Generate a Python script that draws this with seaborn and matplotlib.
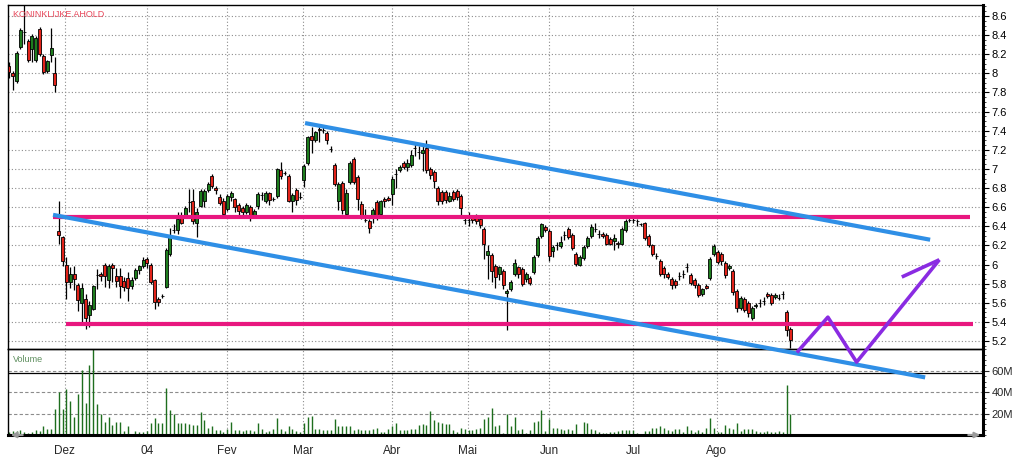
import numpy as np
import pandas as pd
import matplotlib
matplotlib.use("Agg")
import matplotlib.pyplot as plt
from matplotlib.ticker import FixedLocator, MultipleLocator
import seaborn as sns

# ---------------- data (trading-day index 0..204) ----------------
opens = [8.08, 8.00, 7.92, 8.28, 8.43, 8.34, 8.25, 8.14, 8.46, 8.18,
         8.02, 8.19, 8.00, 6.35, 6.29, 6.00, 5.82, 5.90, 5.79, 5.60,
         5.64, 5.47, 5.54, 5.89, 5.90, 6.00, 5.84, 6.00, 5.88, 5.88,
         5.83, 5.86, 5.78, 5.86, 5.94, 5.98, 6.06, 6.00, 5.84, 5.64,
         5.67, 5.77, 6.11, 6.36, 6.36, 6.51, 6.51, 6.65, 6.67, 6.43,
         6.61, 6.67, 6.78, 6.93, 6.80, 6.71, 6.67, 6.58, 6.71, 6.69,
         6.62, 6.59, 6.55, 6.60, 6.52, 6.61, 6.73, 6.67, 6.75, 6.69,
         6.72, 6.99, 6.96, 6.93, 6.67, 6.78, 6.71, 6.88, 7.06, 7.35,
         7.30, 7.42, 7.41, 7.38, 7.21, 7.04, 6.66, 6.85, 6.53, 6.86,
         7.10, 6.92, 6.63, 6.47, 6.46, 6.52, 6.65, 6.53, 6.69, 6.70,
         6.74, 6.95, 6.99, 7.06, 7.02, 7.04, 7.22, 7.18, 7.17, 7.22,
         7.00, 6.97, 6.80, 6.76, 6.76, 6.67, 6.76, 6.77, 6.72, 6.47,
         6.47, 6.50, 6.50, 6.48, 6.37, 6.10, 6.10, 5.99, 5.90, 5.93,
         5.70, 5.74, 5.90, 5.97, 5.95, 5.85, 5.86, 5.92, 6.10, 6.30,
         6.39, 6.35, 6.14, 6.20, 6.19, 6.31, 6.37, 6.31, 6.11, 6.00,
         6.07, 6.19, 6.30, 6.37, 6.32, 6.32, 6.31, 6.27, 6.25, 6.23,
         6.22, 6.36, 6.47, 6.47, 6.46, 6.42, 6.43, 6.30, 6.20, 6.09,
         6.04, 5.96, 5.90, 5.85, 5.83, 5.88, 5.90, 5.97, 5.89, 5.84,
         5.79, 5.69, 5.78, 5.86, 6.11, 6.13, 6.11, 6.02, 5.96, 5.93,
         5.72, 5.55, 5.64, 5.60, 5.44, 5.57, 5.60, 5.62, 5.69, 5.68,
         5.66, 5.65, 5.69, 5.50, 5.33]

closes = [8.01, 7.97, 8.21, 8.45, 8.43, 8.14, 8.39, 8.37, 8.20, 8.01,
          8.13, 8.27, 7.88, 6.31, 6.04, 5.82, 5.90, 5.85, 5.63, 5.76,
          5.44, 5.58, 5.78, 5.89, 5.88, 5.88, 5.99, 5.96, 5.83, 5.78,
          5.77, 5.76, 5.84, 5.94, 5.98, 6.05, 6.02, 5.82, 5.61, 5.61,
          5.67, 6.15, 6.30, 6.36, 6.48, 6.44, 6.59, 6.65, 6.46, 6.55,
          6.77, 6.77, 6.84, 6.82, 6.78, 6.64, 6.53, 6.72, 6.75, 6.60,
          6.56, 6.55, 6.62, 6.52, 6.56, 6.74, 6.73, 6.75, 6.68, 6.69,
          7.00, 6.93, 6.96, 6.67, 6.73, 6.68, 6.71, 7.03, 7.33, 7.30,
          7.39, 7.41, 7.41, 7.30, 7.21, 6.84, 6.84, 6.57, 6.75, 7.06,
          6.86, 6.69, 6.52, 6.47, 6.38, 6.57, 6.52, 6.66, 6.67, 6.68,
          6.90, 6.95, 7.02, 7.02, 7.06, 7.15, 7.22, 7.18, 7.20, 6.99,
          6.94, 6.87, 6.67, 6.66, 6.68, 6.72, 6.69, 6.71, 6.59, 6.47,
          6.47, 6.47, 6.46, 6.41, 6.21, 6.14, 5.93, 5.87, 5.97, 5.79,
          5.72, 5.82, 6.02, 5.90, 5.80, 5.90, 5.81, 6.08, 6.28, 6.42,
          6.36, 6.09, 6.18, 6.20, 6.24, 6.31, 6.29, 6.17, 6.01, 6.08,
          6.18, 6.28, 6.39, 6.37, 6.32, 6.30, 6.22, 6.22, 6.28, 6.21,
          6.37, 6.46, 6.47, 6.47, 6.46, 6.42, 6.28, 6.20, 6.11, 6.09,
          5.90, 5.90, 5.87, 5.79, 5.79, 5.88, 5.90, 5.97, 5.81, 5.79,
          5.68, 5.74, 5.76, 6.06, 6.19, 6.03, 6.04, 5.89, 5.99, 5.71,
          5.55, 5.65, 5.53, 5.49, 5.55, 5.58, 5.60, 5.62, 5.67, 5.60,
          5.68, 5.65, 5.69, 5.32, 5.21]

highs = [8.12, 8.02, 8.23, 8.47, 8.71, 8.36, 8.41, 8.39, 8.48, 8.20,
         8.14, 8.47, 8.17, 6.67, 6.30, 6.08, 5.97, 5.99, 5.81, 5.81,
         5.69, 5.62, 5.79, 5.95, 5.92, 6.02, 6.01, 6.02, 5.96, 5.96,
         5.87, 5.92, 5.87, 5.96, 6.00, 6.08, 6.08, 6.02, 5.85, 5.66,
         5.69, 6.17, 6.38, 6.42, 6.55, 6.55, 6.61, 6.79, 6.79, 6.59,
         6.79, 6.79, 6.86, 6.95, 6.82, 6.74, 6.70, 6.74, 6.77, 6.70,
         6.64, 6.61, 6.64, 6.62, 6.58, 6.76, 6.76, 6.77, 6.76, 6.71,
         7.01, 7.07, 6.98, 6.95, 6.75, 6.80, 6.76, 7.05, 7.35, 7.44,
         7.40, 7.47, 7.44, 7.40, 7.24, 7.06, 6.86, 6.87, 6.79, 7.08,
         7.12, 6.94, 6.66, 6.58, 6.48, 6.59, 6.68, 6.68, 6.71, 6.72,
         6.93, 7.00, 7.04, 7.08, 7.10, 7.20, 7.28, 7.24, 7.26, 7.30,
         7.02, 6.99, 6.82, 6.78, 6.78, 6.76, 6.78, 6.79, 6.74, 6.49,
         6.55, 6.52, 6.53, 6.50, 6.39, 6.20, 6.12, 6.01, 5.99, 5.95,
         5.74, 5.84, 6.06, 5.99, 5.97, 5.92, 5.88, 6.10, 6.30, 6.44,
         6.41, 6.37, 6.20, 6.24, 6.30, 6.35, 6.39, 6.33, 6.13, 6.10,
         6.20, 6.30, 6.42, 6.44, 6.36, 6.34, 6.33, 6.29, 6.32, 6.25,
         6.39, 6.48, 6.49, 6.49, 6.48, 6.44, 6.45, 6.32, 6.22, 6.12,
         6.06, 5.98, 5.92, 5.87, 5.85, 5.92, 5.94, 6.02, 5.91, 5.86,
         5.81, 5.76, 5.80, 6.08, 6.21, 6.15, 6.13, 6.04, 6.01, 5.95,
         5.74, 5.67, 5.66, 5.62, 5.57, 5.60, 5.64, 5.66, 5.71, 5.70,
         5.70, 5.69, 5.72, 5.52, 5.35]

lows = [7.95, 7.83, 7.90, 8.26, 8.31, 8.12, 8.12, 8.12, 8.18, 7.99,
        8.00, 8.12, 7.80, 6.22, 5.98, 5.64, 5.75, 5.73, 5.51, 5.39,
        5.33, 5.35, 5.53, 5.74, 5.83, 5.77, 5.75, 5.82, 5.77, 5.65,
        5.72, 5.62, 5.74, 5.84, 5.90, 5.96, 5.96, 5.80, 5.54, 5.57,
        5.65, 5.75, 6.09, 6.33, 6.32, 6.42, 6.50, 6.55, 6.42, 6.29,
        6.60, 6.60, 6.76, 6.80, 6.74, 6.62, 6.51, 6.56, 6.67, 6.55,
        6.52, 6.52, 6.53, 6.46, 6.50, 6.58, 6.68, 6.64, 6.62, 6.67,
        6.70, 6.90, 6.94, 6.65, 6.55, 6.62, 6.69, 6.81, 7.04, 7.17,
        7.28, 7.28, 7.38, 7.26, 7.18, 6.82, 6.57, 6.53, 6.51, 6.84,
        6.84, 6.57, 6.48, 6.45, 6.33, 6.44, 6.47, 6.50, 6.60, 6.66,
        6.62, 6.80, 6.97, 7.00, 6.98, 7.02, 7.14, 7.10, 6.98, 6.96,
        6.90, 6.80, 6.62, 6.63, 6.64, 6.65, 6.66, 6.68, 6.52, 6.42,
        6.40, 6.43, 6.42, 6.38, 6.06, 5.85, 5.82, 5.75, 5.84, 5.74,
        5.32, 5.72, 5.88, 5.86, 5.78, 5.82, 5.79, 5.90, 6.08, 6.28,
        6.34, 6.04, 6.08, 6.15, 6.17, 6.26, 6.27, 6.15, 5.98, 5.98,
        6.05, 6.17, 6.28, 6.34, 6.28, 6.28, 6.20, 6.20, 6.15, 6.17,
        6.20, 6.34, 6.45, 6.43, 6.40, 6.40, 6.26, 6.18, 6.09, 6.06,
        5.88, 5.86, 5.85, 5.74, 5.75, 5.84, 5.86, 5.92, 5.79, 5.76,
        5.66, 5.67, 5.74, 5.84, 6.09, 6.01, 6.00, 5.86, 5.94, 5.68,
        5.50, 5.53, 5.50, 5.45, 5.42, 5.55, 5.56, 5.58, 5.65, 5.58,
        5.64, 5.63, 5.64, 5.25, 5.13]

volumes_m = [3, 4, 4, 5, 3, 2, 3, 5, 4, 8,
             6, 6, 24, 40, 24, 43, 32, 17, 38, 61,
             30, 65, 80, 29, 20, 12.5, 16.5, 9, 12.5, 12.5,
             4, 8, 0.5, 4, 2.5, 3, 4, 11, 16, 11.5,
             11.5, 44, 23, 20, 11, 11.5, 11.5, 10, 9, 9,
             21.5, 14, 7, 8, 5, 5, 2.5, 5.5, 12.5, 5,
             5, 4, 5, 5, 4, 11.5, 5.5, 3, 4, 5.5,
             15.5, 6, 4, 8, 6, 4, 3, 11, 17, 18,
             6, 6, 5, 5, 5, 15, 8, 8, 8.5, 8.5,
             5, 6, 5, 5, 5, 6, 7, 3, 3, 6,
             8.5, 11, 5, 5, 5, 6, 6, 9, 10, 9,
             22, 14, 12.5, 11, 10, 10, 5, 3, 7, 6,
             5, 5, 6, 7, 15, 16.5, 25, 8.5, 9, 1.5,
             20, 8.5, 17, 5, 6, 2, 5, 12.5, 13.5, 23,
             4, 15, 7, 7, 6, 5, 6, 5, 10, 1,
             12, 11.5, 6, 5, 3, 2, 2, 3, 3, 4,
             5, 5, 5, 5, 1.5, 1, 4, 4, 7, 7,
             8.5, 7, 5, 4, 6, 6, 3, 8, 5, 3,
             5, 3, 7, 15.5, 7, 3, 3, 9, 7, 6,
             11, 4, 6, 6, 6, 4, 3, 3, 4, 3,
             3, 4, 3, 47, 20]

month_labels = ["Dez", "04", "Fev", "Mar", "Abr", "Mai", "Jun", "Jul", "Ago"]
month_pos = [14.6, 36.0, 56.8, 76.8, 99.9, 119.8, 141.0, 163.0, 184.8]

price_ticks = [5.2, 5.4, 5.6, 5.8, 6.0, 6.2, 6.4, 6.6, 6.8, 7.0,
               7.2, 7.4, 7.6, 7.8, 8.0, 8.2, 8.4, 8.6]
volume_ticks = [20, 40, 60]

# drawn annotations (x in trading-day index, y in price)
upper_channel_x = [77.3, 240.5]
upper_channel_y = [7.48, 6.26]
lower_channel_x = [11.5, 239.2]
lower_channel_y = [6.52, 4.82]
resistance_x = [11.5, 251.0]
resistance_y = [6.50, 6.50]
support_x = [14.9, 251.7]
support_y = [5.38, 5.38]
projection_x = [205.7, 213.8, 221.3, 242.9]
projection_y = [5.08, 5.45, 4.98, 6.05]
barb_x = [242.9, 233.1]
barb_y = [6.05, 5.87]

assert len(opens) == len(closes) == len(highs) == len(lows) == len(volumes_m)

# ---------------- figure ----------------
sns.set_style("white")
plt.rcParams['font.family'] = ['Liberation Sans', 'DejaVu Sans']

W, H = 1013, 459
fig = plt.figure(figsize=(W / 100, H / 100), dpi=100)
fig.patch.set_facecolor("white")
ax = fig.add_axes([8 / W, 110 / H, 975 / W, 344 / H])
axv = fig.add_axes([8 / W, 24 / H, 975 / W, 86 / H], sharex=ax)
ax.set_zorder(3)
ax.patch.set_visible(False)
axv.patch.set_visible(False)

df = pd.DataFrame({"o": opens, "h": highs, "l": lows, "c": closes, "v": volumes_m})
df["x"] = np.arange(len(df))
up = df["c"] >= df["o"]
body_col = np.where(up, "#1e7d1e", "#e2231a")

grid_kw = dict(color="#8c8c8c", linestyle=(0, (1, 2)), linewidth=0.8)

# price gridlines
for p in price_ticks:
    ax.axhline(p, zorder=0, **grid_kw)
for m in month_pos:
    ax.axvline(m, zorder=0, **grid_kw)

# candles
ax.vlines(df["x"], df["l"], df["h"], color="black", linewidth=0.9, zorder=2)
ax.bar(df["x"], (df["c"] - df["o"]).abs(), bottom=np.minimum(df["o"], df["c"]),
       width=0.78, color=body_col, edgecolor="black", linewidth=0.6, zorder=3)

# drawn lines via seaborn
line_kw = dict(ax=ax, sort=False, estimator=None, legend=False, clip_on=False,
               solid_capstyle="butt", zorder=5)
sns.lineplot(x=resistance_x, y=resistance_y, color="#e8177f", linewidth=3.0, **line_kw)
sns.lineplot(x=support_x, y=support_y, color="#e8177f", linewidth=3.0, **line_kw)
sns.lineplot(x=upper_channel_x, y=upper_channel_y, color="#2f8fe6", linewidth=3.0, **line_kw)
sns.lineplot(x=lower_channel_x, y=lower_channel_y, color="#2f8fe6", linewidth=3.0, **line_kw)
sns.lineplot(x=projection_x, y=projection_y, color="#8a2be2", linewidth=2.6, **line_kw)
sns.lineplot(x=barb_x, y=barb_y, color="#8a2be2", linewidth=2.6, **line_kw)

ax.set_xlim(-0.26, 254.3)
ax.set_ylim(5.117, 8.715)

ax.yaxis.tick_right()
ax.yaxis.set_major_locator(FixedLocator(price_ticks))
ax.yaxis.set_minor_locator(MultipleLocator(0.05))
ax.set_yticklabels([f"{p:g}" for p in price_ticks])
ax.tick_params(axis="y", which="major", direction="out", length=4, width=0.8,
               pad=2, labelsize=8, colors="black", right=True, left=False)
ax.tick_params(axis="y", which="minor", direction="out", length=2, width=0.6,
               right=True, left=False)
ax.tick_params(axis="x", which="both", bottom=False, labelbottom=False)
ax.set_xlabel("")
ax.set_ylabel("")

for s in ["left", "top", "bottom"]:
    ax.spines[s].set_color("black")
    ax.spines[s].set_linewidth(1.0)
ax.spines["right"].set_color("black")
ax.spines["right"].set_linewidth(2.2)

ax.text(0.005, 0.985, "KONINKLIJKE AHOLD", transform=ax.transAxes, ha="left", va="top",
        fontsize=6.5, color="#e8475a")

# ---------------- volume panel ----------------
for v in volume_ticks:
    axv.axhline(v, color="#8c8c8c", linestyle=(0, (3, 2)), linewidth=0.8, zorder=0)
for m in month_pos:
    axv.axvline(m, zorder=0, **grid_kw)
axv.axhline(57.5, color="black", linewidth=0.9, zorder=1)
axv.vlines(df["x"], 0, df["v"], color="#1e6e1e", linewidth=1.0, zorder=2)

axv.set_ylim(0, 80.4)
axv.yaxis.tick_right()
axv.yaxis.set_major_locator(FixedLocator(volume_ticks))
axv.yaxis.set_minor_locator(MultipleLocator(5))
axv.set_yticklabels([f"{v}M" for v in volume_ticks])
axv.tick_params(axis="y", which="major", direction="out", length=4, width=0.8,
                pad=2, labelsize=8, right=True, left=False)
axv.tick_params(axis="y", which="minor", direction="out", length=2, width=0.6,
                right=True, left=False)
axv.xaxis.set_major_locator(FixedLocator(month_pos))
axv.set_xticklabels(month_labels)
axv.tick_params(axis="x", length=0, pad=7, labelsize=8.5)
axv.set_xlabel("")
axv.set_ylabel("")
for s in ["left", "top"]:
    axv.spines[s].set_color("black")
    axv.spines[s].set_linewidth(1.0)
axv.spines["right"].set_color("black")
axv.spines["right"].set_linewidth(2.2)
axv.spines["bottom"].set_color("black")
axv.spines["bottom"].set_linewidth(2.2)

axv.text(0.005, 0.93, "Volume", transform=axv.transAxes, ha="left", va="top",
         fontsize=6.5, color="#5f8f5f")

# small scroll arrows
axv.annotate("", xy=(0.0, 0.0), xytext=(0.018, 0.0), xycoords="axes fraction",
             arrowprops=dict(arrowstyle="-|>", color="#9a9a9a", lw=1.5,
                             mutation_scale=8), annotation_clip=False, zorder=6)
axv.annotate("", xy=(1.0, 0.0), xytext=(0.982, 0.0), xycoords="axes fraction",
             arrowprops=dict(arrowstyle="-|>", color="#9a9a9a", lw=1.5,
                             mutation_scale=8), annotation_clip=False, zorder=6)

fig.savefig("out.png", dpi=100, facecolor="white")
